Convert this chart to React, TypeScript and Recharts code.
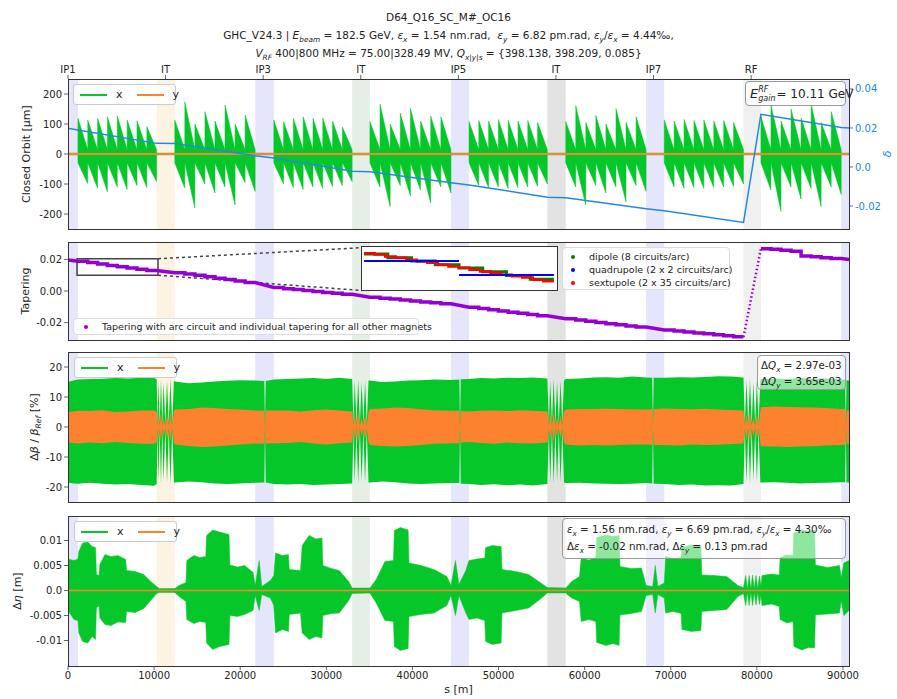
import React from "react";
import {
  ComposedChart,
  Area,
  Line,
  XAxis,
  YAxis,
  ReferenceArea,
  ReferenceLine,
} from "recharts";

const FONT = "'DejaVu Sans', sans-serif";
const GREEN = "#05c72a";
const ORANGE = "#fd8230";
const BLUE = "#2389e0";
const PURPLE = "#9400d3";
const XMAX = 90700;

const S_TICKS = [0, 10000, 20000, 30000, 40000, 50000, 60000, 70000, 80000, 90000];
const SECTOR_S = [0, 11333, 22666, 34000, 45333, 56666, 68000, 79333];
const SECTOR_LABELS = ["IP1", "IT", "IP3", "IT", "IP5", "IT", "IP7", "RF"];

// straight sections (shaded)
const REGIONS = [
  { from: 0, to: 1150, fill: "#e5e5fb" },
  { from: 10300, to: 12400, fill: "#fdf3e3" },
  { from: 21740, to: 23900, fill: "#e5e5fb" },
  { from: 33000, to: 35060, fill: "#e5efe5" },
  { from: 44480, to: 46570, fill: "#e5e5fb" },
  { from: 55670, to: 57800, fill: "#e3e3e3" },
  { from: 67140, to: 69240, fill: "#e5e5fb" },
  { from: 78450, to: 80470, fill: "#f0f0f0" },
  { from: 89800, to: XMAX, fill: "#e5e5fb" },
];

const ARC_START = [1150, 12400, 23900, 35060, 46570, 57800, 69240, 80470];
const ARC_END = [10300, 21740, 33000, 44480, 55670, 67140, 78450, 89800];

// closed orbit x: peak of each sawtooth (8 dipole circuits per arc) [um]
const ORBIT_TOP = [
  [119, 113, 119, 124, 127, 113, 111, 91],
  [113, 174, 100, 141, 110, 163, 100, 130],
  [113, 108, 119, 124, 119, 120, 110, 90],
  [108, 166, 100, 136, 152, 110, 127, 124],
  [108, 112, 110, 115, 112, 110, 112, 105],
  [108, 161, 105, 128, 100, 152, 105, 124],
  [113, 110, 115, 112, 113, 110, 112, 105],
  [125, 163, 110, 150, 120, 166, 105, 141],
];
const ORBIT_BOTTOM = [
  [-98, -114, -126, -110, -118, -105, -112, -92],
  [-113, -180, -100, -130, -110, -170, -95, -125],
  [-100, -112, -118, -110, -115, -108, -105, -92],
  [-110, -175, -105, -140, -120, -164, -110, -130],
  [-105, -112, -110, -115, -112, -110, -108, -100],
  [-110, -170, -105, -130, -110, -159, -105, -125],
  [-110, -114, -112, -115, -112, -110, -108, -100],
  [-120, -192, -110, -150, -115, -175, -110, -135],
];
const ORBIT_LO_START = -30;
const ORBIT_HI_END = 15;

const DELTA_S = [0, 1150, 10300, 12400, 21740, 23900, 33000, 35060, 44480, 46570, 55670, 57800, 67140, 69240, 78450, 80470, 89800, 90700];
const DELTA_V = [0.0198, 0.019, 0.0121, 0.012, 0.0058, 0.0046, -0.0022, -0.0024, -0.0081, -0.0092, -0.0155, -0.0158, -0.0214, -0.0225, -0.0284, 0.027, 0.0202, 0.02];

// tapering per dipole circuit
const TAPER_ARC = [
  [0.0188, 0.018, 0.0171, 0.0162, 0.0154, 0.0146, 0.0138, 0.013],
  [0.0116, 0.0108, 0.0099, 0.009, 0.0081, 0.0072, 0.0063, 0.0054],
  [0.0022, 0.0015, 0.0009, 0.0003, -0.0003, -0.0009, -0.0015, -0.0021],
  [-0.004, -0.0046, -0.0051, -0.0057, -0.0063, -0.0069, -0.0075, -0.0081],
  [-0.0103, -0.0111, -0.0118, -0.0126, -0.0134, -0.0141, -0.0149, -0.0156],
  [-0.0176, -0.0184, -0.0192, -0.02, -0.0207, -0.0214, -0.0221, -0.0228],
  [-0.0247, -0.0253, -0.0259, -0.0265, -0.0271, -0.0277, -0.0283, -0.0289],
  [0.0268, 0.0264, 0.0258, 0.0252, 0.0222, 0.0217, 0.0211, 0.0205],
];
const TAPER_IP1 = [0.0197, 0.0199];
const TAPER_RF = [-0.0291, 0.0268];

// inset (zoom on first arc)
const INSET_DIPOLE = [0.0187, 0.0178, 0.017, 0.0161, 0.0153, 0.0144, 0.0135, 0.0126];
const INSET_QUAD = [0.017, 0.0136];
const INSET_SEXT = [0.0189, 0.0186, 0.0181, 0.0178, 0.0173, 0.0169, 0.0166, 0.0161, 0.0157, 0.0154, 0.0149, 0.0145, 0.0142, 0.0137, 0.0133, 0.013, 0.0125, 0.0121];

// beta beating envelopes: [s, x lo, x hi, y lo, y hi]
const BETA = [
  [0, -18.5, 15.0, -5.0, 5.0],
  [600, -18.8, 15.5, -5.3, 5.2],
  [1150, -18.9, 15.8, -5.5, 5.4],
  [2500, -18.6, 16.0, -5.2, 5.3],
  [4000, -18.9, 16.1, -5.4, 5.6],
  [5500, -19.2, 16.3, -5.0, 5.0],
  [7000, -19.0, 16.2, -5.3, 5.2],
  [8500, -19.3, 16.4, -5.6, 5.5],
  [10000, -19.6, 16.3, -5.6, 5.5],
  [10300, -19.0, 16.0, -5.0, 5.0],
  [10400, -1, 1, -0.5, 0.5],
  [10500, -18.5, 15.5, -4.5, 4.5],
  [10650, -1, 1, -0.5, 0.5],
  [10800, -19, 16, -5, 5],
  [10950, -1, 1, -0.5, 0.5],
  [11100, -18, 15, -3, 3],
  [11300, -1, 1, -0.5, 0.5],
  [11500, -18.5, 15.5, -4, 4],
  [11700, -1, 1, -0.5, 0.5],
  [11900, -19, 16, -5, 5],
  [12100, -1, 1, -0.5, 0.5],
  [12300, -18.5, 15.5, -5, 5],
  [12400, -18.5, 15.2, -5.8, 5.8],
  [14000, -18.2, 14.6, -6.3, 6.0],
  [15500, -18.4, 14.8, -6.7, 6.5],
  [17000, -18.8, 15.2, -6.5, 6.3],
  [18500, -19.0, 15.4, -6.2, 6.0],
  [20000, -18.8, 15.6, -5.8, 5.8],
  [21740, -18.6, 15.5, -5.5, 5.5],
  [22800, -18.5, 15.3, -5.6, 5.4],
  [22880, 0, 0, 0, 0],
  [22960, -18.5, 15.3, -5.5, 5.5],
  [23900, -19.0, 15.8, -5.4, 5.5],
  [25500, -19.2, 16.0, -5.3, 5.5],
  [27000, -19.0, 16.2, -5.0, 5.2],
  [28500, -19.3, 16.3, -5.5, 5.6],
  [30000, -19.2, 16.0, -5.8, 5.8],
  [31500, -19.0, 16.4, -5.4, 5.5],
  [33000, -18.8, 16.0, -5.2, 5.2],
  [33150, -1, 1, -0.5, 0.5],
  [33300, -18.5, 15.5, -4.5, 4.5],
  [33500, -1, 1, -0.5, 0.5],
  [33700, -19, 16, -5, 5],
  [33900, -1, 1, -0.5, 0.5],
  [34100, -18, 15, -3, 3],
  [34300, -1, 1, -0.5, 0.5],
  [34500, -18.5, 15.5, -4, 4],
  [34700, -1, 1, -0.5, 0.5],
  [34900, -18.5, 15.5, -5, 5],
  [35060, -18.5, 15.5, -6.0, 6.0],
  [36500, -18.2, 15.0, -6.3, 6.2],
  [38000, -18.4, 15.2, -6.5, 6.5],
  [39500, -18.8, 15.5, -6.3, 6.3],
  [41000, -19.0, 15.6, -6.0, 5.9],
  [42500, -18.8, 15.8, -5.6, 5.6],
  [44480, -18.7, 15.7, -5.4, 5.4],
  [45450, -18.7, 15.8, -5.4, 5.4],
  [45530, 0, 0, 0, 0],
  [45610, -18.9, 15.9, -5.2, 5.3],
  [46570, -19.0, 16.0, -5.0, 5.2],
  [48000, -19.3, 16.3, -5.3, 5.4],
  [49500, -19.1, 16.2, -5.6, 5.5],
  [51000, -19.4, 16.4, -5.2, 5.3],
  [52500, -19.2, 16.3, -5.4, 5.6],
  [54000, -19.5, 16.5, -5.5, 5.4],
  [55670, -19.0, 16.2, -5.2, 5.2],
  [55850, -1, 1, -0.5, 0.5],
  [56000, -18.5, 15.5, -4.5, 4.5],
  [56200, -1, 1, -0.5, 0.5],
  [56400, -19, 16, -5, 5],
  [56600, -1, 1, -0.5, 0.5],
  [56800, -18, 15, -3, 3],
  [57000, -1, 1, -0.5, 0.5],
  [57200, -18.5, 15.5, -4, 4],
  [57400, -1, 1, -0.5, 0.5],
  [57600, -18.5, 15.5, -5, 5],
  [57800, -18.7, 16.0, -5.8, 5.8],
  [59500, -18.6, 16.2, -6.2, 6.0],
  [61000, -18.8, 16.5, -6.0, 6.0],
  [62500, -18.9, 16.6, -6.2, 6.1],
  [64000, -19.0, 16.4, -6.0, 6.0],
  [65500, -18.9, 16.8, -5.8, 5.9],
  [67140, -18.7, 16.5, -5.8, 5.8],
  [67850, -18.8, 16.4, -5.9, 5.9],
  [67930, 0, 0, 0, 0],
  [68010, -18.9, 16.4, -6.0, 6.0],
  [69240, -19.0, 16.4, -6.0, 6.2],
  [71000, -19.3, 16.6, -6.2, 6.0],
  [72500, -19.2, 16.5, -5.8, 5.9],
  [74000, -19.5, 16.7, -6.0, 6.1],
  [75500, -19.4, 16.9, -5.9, 5.8],
  [77000, -19.5, 16.8, -5.7, 5.7],
  [78450, -19.0, 16.5, -5.5, 5.5],
  [78600, -1, 1, -0.5, 0.5],
  [78800, -18.5, 15.5, -4.5, 4.5],
  [79000, -1, 1, -0.5, 0.5],
  [79200, -19, 16, -5, 5],
  [79400, -1, 1, -0.5, 0.5],
  [79600, -18, 15, -3, 3],
  [79800, -1, 1, -0.5, 0.5],
  [80000, -18.5, 15.5, -4, 4],
  [80200, -1, 1, -0.5, 0.5],
  [80400, -18.5, 15.5, -5, 5],
  [80470, -18.5, 16.0, -6.4, 6.6],
  [82000, -18.4, 16.2, -6.5, 6.8],
  [83500, -18.6, 16.0, -6.7, 6.7],
  [85000, -18.8, 16.3, -6.5, 6.6],
  [86500, -18.7, 16.1, -6.4, 6.5],
  [88000, -18.6, 16.2, -6.2, 6.3],
  [89800, -18.4, 15.8, -6.0, 6.0],
  [90250, -18.4, 15.8, -6.0, 6.0],
  [90330, 0, 0, 0, 0],
  [90410, -18.5, 15.6, -5.6, 5.6],
  [90700, -18.5, 15.5, -5.5, 5.5],
];

// dispersion beating envelope: [s, lo, hi]
const ETA = [
  [0, -0.004, 0.0063], [700, -0.0058, 0.006], [1150, -0.006, 0.0063], [1250, -0.0085, 0.0078],
  [1700, -0.0102, 0.0095], [2300, -0.0105, 0.0097], [2800, -0.0092, 0.0088], [3200, -0.0098, 0.0086],
  [3300, -0.0035, 0.0032], [3600, -0.003, 0.003], [3700, -0.0055, 0.0052], [4300, -0.0068, 0.0072],
  [5000, -0.007, 0.0068], [5800, -0.0063, 0.007], [6700, -0.0064, 0.0062], [6800, -0.0042, 0.004],
  [7800, -0.0044, 0.0038], [8800, -0.0036, 0.0032], [9600, -0.002, 0.0018], [10300, -0.0006, 0.0008],
  [10600, -0.0004, 0.0004], [12400, -0.0004, 0.0004], [12900, -0.0012, 0.001], [13700, -0.0022, 0.0016],
  [13800, -0.0058, 0.006], [14600, -0.0066, 0.007], [15300, -0.0062, 0.0066], [16000, -0.0064, 0.0068],
  [16100, -0.0105, 0.011], [16800, -0.0118, 0.0121], [17600, -0.0112, 0.0117], [18700, -0.0108, 0.0112],
  [18800, -0.005, 0.0051], [19700, -0.0052, 0.0047], [20500, -0.0048, 0.005], [21500, -0.004, 0.0036],
  [21740, -0.001, 0.001], [22200, -0.004, 0.006], [22500, -0.0008, 0.0008], [23500, -0.0015, 0.002],
  [23900, -0.003, 0.003], [24100, -0.0085, 0.0075], [24900, -0.0078, 0.007], [25600, -0.0082, 0.0072],
  [25700, -0.0048, 0.0042], [27000, -0.0045, 0.004], [27200, -0.0085, 0.009], [28000, -0.0098, 0.011],
  [28800, -0.0092, 0.0103], [29500, -0.0095, 0.0105], [29600, -0.005, 0.005], [30600, -0.0046, 0.0044],
  [31500, -0.0045, 0.004], [32600, -0.002, 0.0018], [33000, -0.0006, 0.0005], [35060, -0.0005, 0.0005],
  [35800, -0.0025, 0.0022], [36800, -0.006, 0.0058], [37800, -0.0062, 0.006], [37900, -0.0112, 0.012],
  [38600, -0.012, 0.0126], [39500, -0.0116, 0.0121], [39600, -0.0052, 0.0055], [41000, -0.0048, 0.005],
  [42500, -0.0045, 0.0042], [44000, -0.003, 0.0028], [44480, -0.001, 0.001], [45000, -0.005, 0.006],
  [45400, -0.001, 0.0012], [46200, -0.0045, 0.004], [46570, -0.0058, 0.006], [47500, -0.0055, 0.0063],
  [48400, -0.006, 0.0065], [48500, -0.0102, 0.0086], [49300, -0.0108, 0.009], [50300, -0.0105, 0.0088],
  [50400, -0.0045, 0.0042], [52000, -0.004, 0.0038], [53500, -0.0035, 0.0032], [55000, -0.0015, 0.0014],
  [55670, -0.0005, 0.0006], [57800, -0.0005, 0.0005], [58500, -0.0015, 0.0018], [59400, -0.0022, 0.0028],
  [59600, -0.0062, 0.0065], [60500, -0.0058, 0.0061], [61300, -0.0062, 0.0066], [61400, -0.0104, 0.0106],
  [62500, -0.011, 0.0111], [63300, -0.0106, 0.0108], [64000, -0.011, 0.011], [64100, -0.0049, 0.0048],
  [65400, -0.0046, 0.0044], [66600, -0.0042, 0.0045], [67140, -0.001, 0.001], [67900, -0.0008, 0.0008],
  [68200, -0.0045, 0.005], [68500, -0.0008, 0.0008], [69240, -0.0015, 0.0015], [69400, -0.0045, 0.0068],
  [70300, -0.0042, 0.0063], [71200, -0.0046, 0.0066], [71300, -0.0078, 0.0086], [72400, -0.0082, 0.0091],
  [73500, -0.008, 0.009], [73600, -0.0042, 0.0031], [75000, -0.004, 0.003], [76500, -0.0038, 0.0028],
  [77800, -0.0012, 0.001], [78450, -0.0006, 0.0006], [78700, -0.003, 0.003], [78900, -0.0003, 0.0003],
  [79100, -0.003, 0.003], [79300, -0.0003, 0.0003], [79500, -0.003, 0.0031], [79700, -0.0003, 0.0003],
  [79900, -0.0029, 0.003], [80100, -0.0003, 0.0003], [80300, -0.0028, 0.0029], [80470, -0.001, 0.001],
  [80600, -0.003, 0.003], [81700, -0.0027, 0.0033], [82600, -0.0032, 0.0031], [82700, -0.0058, 0.0066],
  [83500, -0.0065, 0.0071], [84200, -0.0062, 0.007], [84300, -0.0112, 0.0115], [85200, -0.0119, 0.0121],
  [86000, -0.0114, 0.0118], [86700, -0.0115, 0.012], [86800, -0.0049, 0.0051], [88200, -0.0047, 0.0046],
  [89600, -0.0045, 0.005], [89800, -0.002, 0.0025], [90100, -0.005, 0.0055], [90700, -0.004, 0.006],
];

// ---- tables for the library ----
const orbitData: { s: number; r: number[] }[] = [{ s: 0, r: [-3, 3] }];
ARC_START.forEach((a0, a) => {
  const len = (ARC_END[a] - a0) / 8;
  orbitData.push({ s: a0, r: [-3, 3] });
  ORBIT_TOP[a].forEach((top, k) => {
    const s0 = a0 + k * len;
    orbitData.push({ s: s0 + 5, r: [ORBIT_LO_START, top] });
    orbitData.push({ s: s0 + len - 5, r: [ORBIT_BOTTOM[a][k], ORBIT_HI_END] });
  });
  orbitData.push({ s: ARC_END[a], r: [-3, 3] });
});
orbitData.push({ s: XMAX, r: [-3, 3] });

const orbitY = [{ s: 0, v: 0 }, { s: XMAX, v: 0 }];
const deltaData = DELTA_S.map((s, i) => ({ s, v: DELTA_V[i] }));

const taperData: { s: number; v: number | null }[] = [{ s: 0, v: TAPER_IP1[0] }];
ARC_START.forEach((a0, a) => {
  const len = (ARC_END[a] - a0) / 8;
  TAPER_ARC[a].forEach((v, k) => {
    taperData.push({ s: a0 + k * len, v }, { s: a0 + (k + 1) * len, v });
  });
  if (a === 6) taperData.push({ s: 79400, v: null });
});
taperData.push({ s: XMAX, v: TAPER_IP1[1] });
const taperRf = [
  { s: ARC_END[6], v: TAPER_RF[0] },
  { s: ARC_START[7], v: TAPER_RF[1] },
];

const arc1Len = (ARC_END[0] - ARC_START[0]) / 8;
const insetDipole = INSET_DIPOLE.flatMap((v, k) => [
  { s: ARC_START[0] + k * arc1Len, v },
  { s: ARC_START[0] + (k + 1) * arc1Len, v },
]);
const quadLen = (ARC_END[0] - ARC_START[0]) / INSET_QUAD.length;
const insetQuad = INSET_QUAD.flatMap((v, k) => [
  { s: ARC_START[0] + k * quadLen, v },
  { s: ARC_START[0] + (k + 1) * quadLen, v },
  { s: ARC_START[0] + (k + 1) * quadLen + 1, v: null },
]);
const sextLen = (ARC_END[0] - ARC_START[0]) / INSET_SEXT.length;
const insetSext = INSET_SEXT.flatMap((v, k) => [
  { s: ARC_START[0] + k * sextLen, v },
  { s: ARC_START[0] + (k + 1) * sextLen, v },
]);

const betaX = BETA.map((b) => ({ s: b[0], r: [b[1], b[2]] }));
const betaY = BETA.map((b) => ({ s: b[0], r: [b[3], b[4]] }));
const etaX = ETA.map((e) => ({ s: e[0], r: [e[1], e[2]] }));

// ---- layout ----
const PL = 68;
const PW = 781;
const P1 = { top: 79, h: 150 };
const P2 = { top: 242, h: 98 };
const P3 = { top: 352, h: 150 };
const P4 = { top: 516, h: 150 };

const tickStyle = { fontSize: 10, fill: "#222", fontFamily: FONT };

function Frame({ top, h }: { top: number; h: number }) {
  return (
    <div
      style={{
        position: "absolute",
        left: PL,
        top,
        width: PW + 1,
        height: h + 1,
        border: "1px solid #333",
        boxSizing: "border-box",
        pointerEvents: "none",
      }}
    />
  );
}

function YLabel({ x, y, children, color }: { x: number; y: number; children: React.ReactNode; color?: string }) {
  return (
    <div
      style={{
        position: "absolute",
        left: x,
        top: y,
        transform: "translate(-50%, -50%) rotate(-90deg)",
        whiteSpace: "nowrap",
        fontSize: 11,
        color: color || "#222",
      }}
    >
      {children}
    </div>
  );
}

function M({ b, sub, sup }: { b: string; sub?: string; sup?: string }) {
  return (
    <span>
      <i>{b}</i>
      {sup ? <sup style={{ fontSize: "70%", fontStyle: "italic" }}>{sup}</sup> : null}
      {sub ? <sub style={{ fontSize: "70%", fontStyle: "italic", lineHeight: 0 }}>{sub}</sub> : null}
    </span>
  );
}

function Dot({ color }: { color: string }) {
  return (
    <span
      style={{
        display: "inline-block",
        flexShrink: 0,
        width: 4,
        height: 4,
        borderRadius: 2,
        background: color,
        marginRight: 14,
      }}
    />
  );
}

function XYLegend({ left, top }: { left: number; top: number }) {
  const item = (color: string, label: string) => (
    <span style={{ display: "inline-flex", alignItems: "center", marginRight: 14 }}>
      <span style={{ display: "inline-block", width: 27, borderTop: `2px solid ${color}`, marginRight: 9 }} />
      {label}
    </span>
  );
  return (
    <div
      style={{
        position: "absolute",
        left,
        top,
        width: 103,
        height: 21,
        boxSizing: "border-box",
        border: "1px solid #ccc",
        borderRadius: 3,
        background: "rgba(255,255,255,0.8)",
        display: "flex",
        alignItems: "center",
        paddingLeft: 6,
        fontSize: 11,
        color: "#222",
      }}
    >
      {item(GREEN, "x")}
      {item(ORANGE, "y")}
    </div>
  );
}

const boxStyle: React.CSSProperties = {
  position: "absolute",
  boxSizing: "border-box",
  border: "1px solid #999",
  borderRadius: 4,
  background: "rgba(255,255,255,0.55)",
  fontSize: 11,
  color: "#222",
  whiteSpace: "nowrap",
};

function Regions({ yAxisId }: { yAxisId?: string }) {
  return (
    <>
      {REGIONS.map((r, i) => (
        <ReferenceArea
          key={i}
          yAxisId={yAxisId || 0}
          x1={r.from}
          x2={r.to}
          fill={r.fill}
          fillOpacity={1}
          stroke="none"
        />
      ))}
    </>
  );
}

export default function App() {
  return (
    <div
      style={{
        position: "absolute",
        left: 0,
        top: 0,
        width: 897,
        height: 699,
        background: "#fff",
        fontFamily: FONT,
        color: "#222",
        overflow: "hidden",
      }}
    >
      {/* title */}
      <div style={{ position: "absolute", left: 0, width: 897, top: 8, textAlign: "center", fontSize: 10.5, lineHeight: "18px" }}>
        <div>D64_Q16_SC_M#_OC16</div>
        <div>
          GHC_V24.3 | <M b="E" sub="beam" /> = 182.5 GeV, <M b="ε" sub="x" /> = 1.54 nm.rad,&nbsp; <M b="ε" sub="y" /> = 6.82 pm.rad,{" "}
          <M b="ε" sub="y" />/<M b="ε" sub="x" /> = 4.44‰,
        </div>
        <div>
          <M b="V" sub="RF" /> 400|800 MHz = 75.00|328.49 MV, <M b="Q" sub="x|y|s" /> = {"{398.138, 398.209, 0.085}"}
        </div>
      </div>

      {/* panel 1: closed orbit */}
      <div style={{ position: "absolute", left: 0, top: P1.top - 20 }}>
        <ComposedChart width={897} height={20 + P1.h + 8} margin={{ top: 0, right: 8, bottom: 0, left: 8 }}>
          <XAxis
            xAxisId="top"
            orientation="top"
            type="number"
            dataKey="s"
            domain={[0, XMAX]}
            ticks={SECTOR_S}
            tickFormatter={(v: number) => SECTOR_LABELS[SECTOR_S.indexOf(v)]}
            height={20}
            axisLine={false}
            tickSize={4}
            tick={tickStyle}
            allowDataOverflow
          />
          <XAxis
            type="number"
            dataKey="s"
            domain={[0, XMAX]}
            ticks={S_TICKS}
            height={8}
            axisLine={false}
            tickSize={4}
            tick={false}
            allowDataOverflow
          />
          <YAxis
            yAxisId="left"
            type="number"
            domain={[-250, 250]}
            ticks={[-200, -100, 0, 100, 200]}
            width={60}
            axisLine={false}
            tickSize={4}
            tick={tickStyle}
            allowDataOverflow
          />
          <YAxis
            yAxisId="right"
            orientation="right"
            type="number"
            domain={[-0.0318, 0.0451]}
            ticks={[-0.02, 0, 0.02, 0.04]}
            tickFormatter={(v: number) => (v === 0 ? "0.0" : v.toFixed(2))}
            width={40}
            axisLine={false}
            tickSize={4}
            tick={{ ...tickStyle, fill: BLUE }}
            tickLine={{ stroke: BLUE }}
            allowDataOverflow
          />
          <Regions yAxisId="left" />
          <Area yAxisId="left" data={orbitData} dataKey="r" type="linear" stroke={GREEN} strokeWidth={0.5} fill={GREEN} fillOpacity={1} isAnimationActive={false} />
          <Line yAxisId="left" data={orbitY} dataKey="v" type="linear" stroke={ORANGE} strokeWidth={2} dot={false} isAnimationActive={false} />
          <Line yAxisId="right" data={deltaData} dataKey="v" type="linear" stroke={BLUE} strokeWidth={1.5} dot={false} isAnimationActive={false} />
        </ComposedChart>
      </div>
      <Frame top={P1.top} h={P1.h} />
      <XYLegend left={73} top={84} />
      <div style={{ ...boxStyle, left: 745, top: 81, width: 101, height: 25, display: "flex", alignItems: "center", paddingLeft: 4, background: "rgba(255,255,255,0.8)" }}>
        <i style={{ fontSize: 13 }}>E</i>
        <span style={{ display: "inline-flex", flexDirection: "column", fontSize: 8, lineHeight: "9px", fontStyle: "italic", marginRight: 1 }}>
          <span>RF</span>
          <span>gain</span>
        </span>
        <span style={{ fontSize: 12 }}>= 10.11 GeV</span>
      </div>
      <YLabel x={26} y={P1.top + P1.h / 2}>Closed Orbit [μm]</YLabel>
      <YLabel x={887} y={P1.top + P1.h / 2} color={BLUE}>
        <i>δ</i>
      </YLabel>

      {/* panel 2: tapering */}
      <div style={{ position: "absolute", left: 0, top: P2.top }}>
        <ComposedChart width={897} height={P2.h + 8} margin={{ top: 0, right: 48, bottom: 0, left: 8 }}>
          <XAxis type="number" dataKey="s" domain={[0, XMAX]} ticks={S_TICKS} height={8} axisLine={false} tickSize={4} tick={false} allowDataOverflow />
          <YAxis
            type="number"
            domain={[-0.031, 0.031]}
            ticks={[-0.02, 0, 0.02]}
            tickFormatter={(v: number) => v.toFixed(2)}
            width={60}
            axisLine={false}
            tickSize={4}
            tick={tickStyle}
            allowDataOverflow
          />
          <Regions />
          <ReferenceLine segment={[{ x: 10450, y: 0.0204 }, { x: 34135, y: 0.0274 }]} stroke="#444" strokeWidth={1.5} strokeDasharray="3 3" ifOverflow="visible" />
          <ReferenceLine segment={[{ x: 10450, y: 0.01 }, { x: 34135, y: 0.0003 }]} stroke="#444" strokeWidth={1.5} strokeDasharray="3 3" ifOverflow="visible" />
          <ReferenceArea x1={1050} x2={10450} y1={0.01} y2={0.0204} fill="none" fillOpacity={0} stroke="#444" strokeWidth={1.5} />
          <Line data={taperData} dataKey="v" type="linear" stroke={PURPLE} strokeWidth={3.5} dot={false} connectNulls={false} isAnimationActive={false} />
          <Line data={taperRf} dataKey="v" type="linear" stroke={PURPLE} strokeWidth={2.5} strokeDasharray="1.5 2.5" dot={false} isAnimationActive={false} />
        </ComposedChart>
      </div>
      <Frame top={P2.top} h={P2.h} />
      {/* inset */}
      <div style={{ position: "absolute", left: 362, top: 247, width: 195, height: 43, background: "#fff" }}>
        <ComposedChart width={195} height={43} margin={{ top: 0, right: 0, bottom: 0, left: 0 }}>
          <XAxis type="number" dataKey="s" domain={[1050, 10450]} hide allowDataOverflow />
          <YAxis type="number" domain={[0.01, 0.0204]} hide allowDataOverflow />
          <Line data={insetDipole} dataKey="v" type="linear" stroke="#008000" strokeWidth={3} dot={false} isAnimationActive={false} />
          <Line data={insetSext} dataKey="v" type="linear" stroke="#ff0000" strokeWidth={2.5} dot={false} isAnimationActive={false} />
          <Line data={insetQuad} dataKey="v" type="linear" stroke="#0000ff" strokeWidth={2} dot={false} connectNulls={false} isAnimationActive={false} />
        </ComposedChart>
      </div>
      <div style={{ position: "absolute", left: 361, top: 246, width: 197, height: 45, border: "1.5px solid #333", boxSizing: "border-box" }} />
      <div style={{ ...boxStyle, left: 562, top: 247, width: 168, height: 43, border: "1px solid #ddd", background: "rgba(255,255,255,0.85)", fontSize: 9.5, padding: "2px 0 0 8px", lineHeight: "13px" }}>
        {[
          ["#008000", "dipole (8 circuits/arc)"],
          ["#0000ff", "quadrupole (2 x 2 circuits/arc)"],
          ["#ff0000", "sextupole (2 x 35 circuits/arc)"],
        ].map(([c, t]) => (
          <div key={t} style={{ display: "flex", alignItems: "center" }}>
            <Dot color={c} />
            {t}
          </div>
        ))}
      </div>
      <div style={{ ...boxStyle, left: 73, top: 318, width: 346, height: 17, border: "1px solid #ddd", background: "rgba(255,255,255,0.85)", fontSize: 9.5, display: "flex", alignItems: "center", paddingLeft: 10 }}>
        <Dot color={PURPLE} />
        Tapering with arc circuit and individual tapering for all other magnets
      </div>
      <YLabel x={25} y={P2.top + P2.h / 2}>Tapering</YLabel>

      {/* panel 3: beta beating */}
      <div style={{ position: "absolute", left: 0, top: P3.top }}>
        <ComposedChart width={897} height={P3.h + 8} margin={{ top: 0, right: 48, bottom: 0, left: 8 }}>
          <XAxis type="number" dataKey="s" domain={[0, XMAX]} ticks={S_TICKS} height={8} axisLine={false} tickSize={4} tick={false} allowDataOverflow />
          <YAxis type="number" domain={[-25, 25]} ticks={[-20, -10, 0, 10, 20]} width={60} axisLine={false} tickSize={4} tick={tickStyle} allowDataOverflow />
          <Regions />
          <Area data={betaX} dataKey="r" type="linear" stroke="none" fill={GREEN} fillOpacity={1} isAnimationActive={false} />
          <Area data={betaY} dataKey="r" type="linear" stroke="none" fill={ORANGE} fillOpacity={1} isAnimationActive={false} />
        </ComposedChart>
      </div>
      <Frame top={P3.top} h={P3.h} />
      <XYLegend left={74} top={357} />
      <div style={{ ...boxStyle, left: 757, top: 355, width: 89, height: 35, padding: "1px 0 0 3px", lineHeight: "16px", fontSize: 10.3 }}>
        <div>
          Δ<M b="Q" sub="x" /> = 2.97e-03
        </div>
        <div>
          Δ<M b="Q" sub="y" /> = 3.65e-03
        </div>
      </div>
      <YLabel x={34} y={P3.top + P3.h / 2}>
        Δ<i>β</i> / <i>β</i>
        <sub style={{ fontSize: "70%", fontStyle: "italic", lineHeight: 0 }}>Ref</sub> [%]
      </YLabel>

      {/* panel 4: dispersion beating */}
      <div style={{ position: "absolute", left: 0, top: P4.top }}>
        <ComposedChart width={897} height={P4.h + 20} margin={{ top: 0, right: 48, bottom: 0, left: 8 }}>
          <XAxis
            type="number"
            dataKey="s"
            domain={[0, XMAX]}
            ticks={S_TICKS}
            height={20}
            axisLine={false}
            tickSize={4}
            tick={tickStyle}
            allowDataOverflow
          />
          <YAxis
            type="number"
            domain={[-0.0151, 0.0149]}
            ticks={[-0.01, -0.005, 0, 0.005, 0.01]}
            tickFormatter={(v: number) => (v === 0 ? "0.0" : String(v))}
            width={60}
            axisLine={false}
            tickSize={4}
            tick={tickStyle}
            allowDataOverflow
          />
          <Regions />
          <Area data={etaX} dataKey="r" type="linear" stroke={GREEN} strokeWidth={0.5} fill={GREEN} fillOpacity={1} isAnimationActive={false} />
          <Line data={orbitY} dataKey="v" type="linear" stroke={ORANGE} strokeWidth={1.5} dot={false} isAnimationActive={false} />
        </ComposedChart>
      </div>
      <Frame top={P4.top} h={P4.h} />
      <XYLegend left={74} top={521} />
      <div style={{ ...boxStyle, left: 562, top: 518, width: 284, height: 41, padding: "2px 0 0 4px", lineHeight: "17px", fontSize: 10.3 }}>
        <div>
          <M b="ε" sub="x" /> = 1.56 nm.rad, <M b="ε" sub="y" /> = 6.69 pm.rad, <M b="ε" sub="y" />/<M b="ε" sub="x" /> = 4.30‰
        </div>
        <div>
          Δ<M b="ε" sub="x" /> = -0.02 nm.rad, Δ<M b="ε" sub="y" /> = 0.13 pm.rad
        </div>
      </div>
      <YLabel x={17} y={P4.top + P4.h / 2}>
        Δ<i>η</i> [m]
      </YLabel>
      <div style={{ position: "absolute", left: 0, width: 897 + 20, top: 683, textAlign: "center", fontSize: 11 }}>s [m]</div>
    </div>
  );
}
